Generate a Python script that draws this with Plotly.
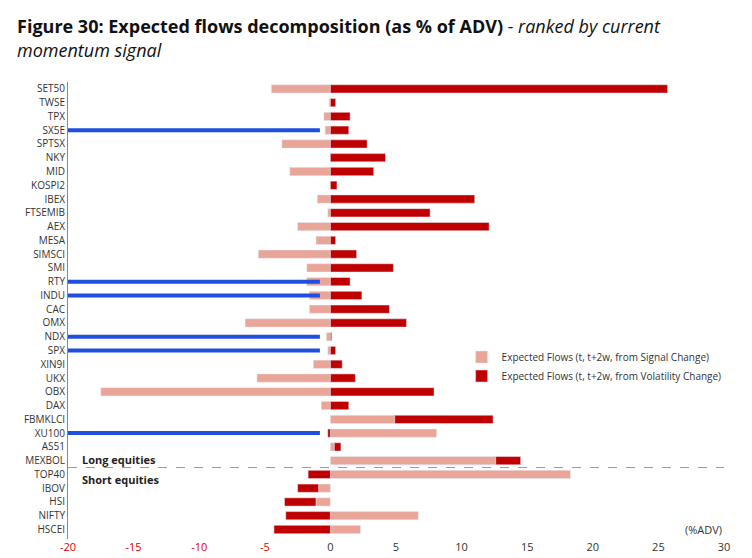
import plotly.graph_objects as go

cats = ["SET50","TWSE","TPX","SX5E","SPTSX","NKY","MID","KOSPI2","IBEX","FTSEMIB","AEX","MESA",
        "SIMSCI","SMI","RTY","INDU","CAC","OMX","NDX","SPX","XIN9I","UKX","OBX","DAX","FBMKLCI",
        "XU100","AS51","MEXBOL","TOP40","IBOV","HSI","NIFTY","HSCEI"]
signal = [-4.5,-0.1,-0.5,-0.4,-3.7,0,-3.1,0,-1.0,-0.2,-2.5,-1.1,-5.5,-1.8,-1.8,-1.6,-1.6,-6.5,
          -0.3,-0.2,-1.3,-5.6,-17.5,-0.7,4.9,8.1,0.3,12.6,18.3,-0.9,-1.1,6.7,2.3]
vol = [25.7,0.4,1.5,1.4,2.8,4.2,3.3,0.5,11.0,7.6,12.1,0.4,2.0,4.8,1.5,2.4,4.5,5.8,
       0.1,0.4,0.9,1.9,7.9,1.4,7.5,-0.2,0.5,1.9,-1.7,-1.6,-2.4,-3.4,-4.3]
scribbled = ["SX5E","RTY","INDU","NDX","SPX","XU100"]
tickvals = [-20,-15,-10,-5,0,5,10,15,20,25,30]

fig = go.Figure()
fig.add_bar(y=cats, x=signal, orientation="h", marker_color="#E8A598",
            name="Expected Flows (t, t+2w, from Signal Change)", width=0.6)
fig.add_bar(y=cats, x=vol, orientation="h", marker_color="#C00000",
            name="Expected Flows (t, t+2w, from Volatility Change)", width=0.6)

for c in scribbled:
    fig.add_shape(type="line", x0=-20, x1=-0.8, y0=c, y1=c, xref="x", yref="y",
                  line=dict(color="#1F4FE0", width=4))

fig.add_shape(type="line", xref="paper", x0=0, x1=1, yref="y", y0=27.5, y1=27.5,
              line=dict(color="#999", width=1, dash="dash"))
fig.add_annotation(x=-20, y=26.9, text="<b>Long equities</b>", showarrow=False,
                   xanchor="left", xshift=12, font=dict(size=11, color="#222"))
fig.add_annotation(x=-20, y=28.4, text="<b>Short equities</b>", showarrow=False,
                   xanchor="left", xshift=12, font=dict(size=11, color="#222"))
fig.add_annotation(x=1, y=32, xref="paper", text="(%ADV)", showarrow=False,
                   xanchor="right", font=dict(size=11, color="#333"))

ticktext = [f"<span style='color:#E00000'>{v}</span>" if v < 0 else str(v) for v in tickvals]

fig.update_layout(
    width=752, height=558, barmode="relative", bargap=0.3,
    plot_bgcolor="white", paper_bgcolor="white",
    font=dict(family="Open Sans, sans-serif", size=11, color="#333"),
    margin=dict(l=60, r=36, t=74, b=24),
    title=dict(text="<b>Figure 30: Expected flows decomposition (as % of ADV)</b> <i>- ranked by current<br>momentum signal</i>",
               x=0.012, xanchor="left", y=0.955, yanchor="top", font=dict(size=18, color="#111")),
    xaxis=dict(range=[-20, 30], tickvals=tickvals, ticktext=ticktext, showgrid=False, zeroline=False,
               showline=False, ticks=""),
    yaxis=dict(categoryorder="array", categoryarray=cats, autorange="reversed", showgrid=False,
               showline=True, linecolor="#888", ticks="", tickfont=dict(size=10, color="#333")),
    legend=dict(x=0.6, y=0.43, xanchor="left", yanchor="top", font=dict(size=10, color="#333"),
                bgcolor="rgba(0,0,0,0)", itemwidth=30, tracegroupgap=10),
)
fig.write_html("out.html")
